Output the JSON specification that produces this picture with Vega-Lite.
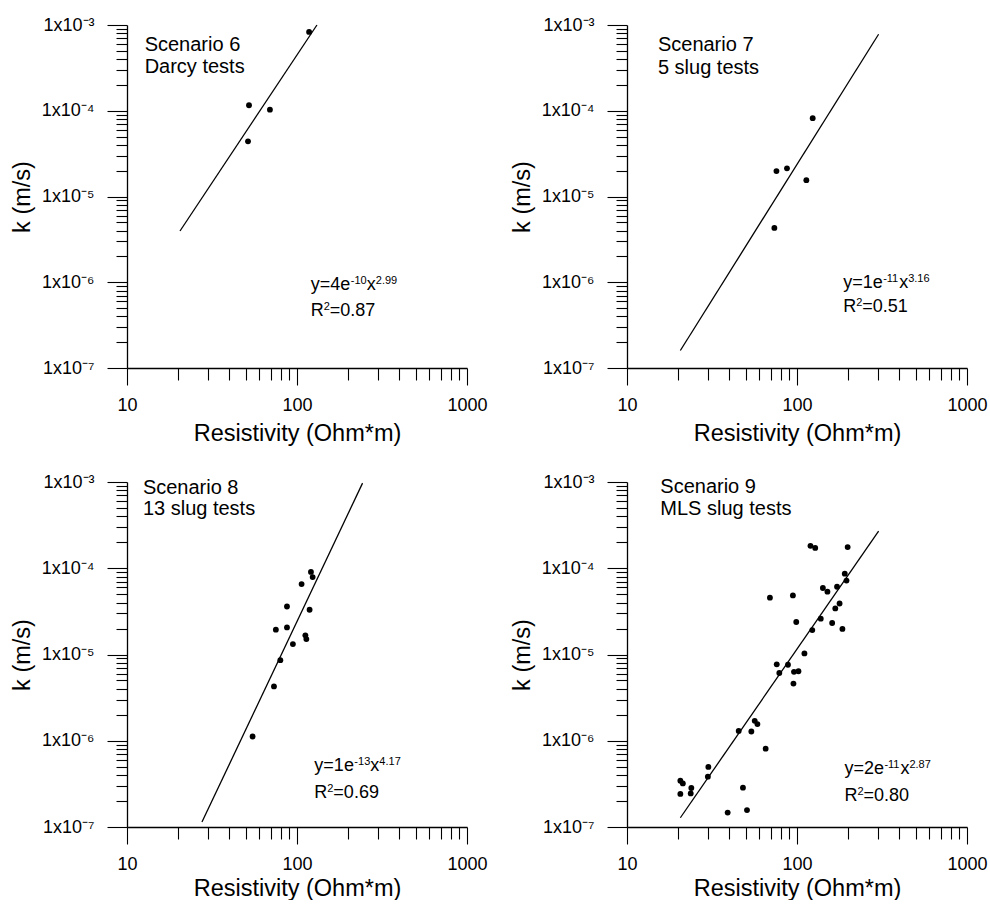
{
  "$schema": "https://vega.github.io/schema/vega-lite/v6.json",
  "background": "white",
  "padding": {"left": 10, "top": 16, "right": 0, "bottom": 0},
  "datasets": {
    "pts": [
      {"panel": "6", "res": 117.8, "k": 8.3e-4},
      {"panel": "6", "res": 52.2, "k": 1.16e-4},
      {"panel": "6", "res": 69.3, "k": 1.03e-4},
      {"panel": "6", "res": 51.5, "k": 4.4e-5},
      {"panel": "7", "res": 123.7, "k": 8.2e-5},
      {"panel": "7", "res": 75.7, "k": 1.98e-5},
      {"panel": "7", "res": 87.3, "k": 2.13e-5},
      {"panel": "7", "res": 113.5, "k": 1.55e-5},
      {"panel": "7", "res": 73.6, "k": 4.3e-6},
      {"panel": "8", "res": 120.8, "k": 9.06e-5},
      {"panel": "8", "res": 123.6, "k": 7.9e-5},
      {"panel": "8", "res": 106.4, "k": 6.56e-5},
      {"panel": "8", "res": 87.3, "k": 3.6e-5},
      {"panel": "8", "res": 118.6, "k": 3.3e-5},
      {"panel": "8", "res": 75.1, "k": 1.94e-5},
      {"panel": "8", "res": 87.3, "k": 2.06e-5},
      {"panel": "8", "res": 112, "k": 1.67e-5},
      {"panel": "8", "res": 113.5, "k": 1.51e-5},
      {"panel": "8", "res": 94.6, "k": 1.32e-5},
      {"panel": "8", "res": 79.8, "k": 8.6e-6},
      {"panel": "8", "res": 73.2, "k": 4.27e-6},
      {"panel": "8", "res": 54.8, "k": 1.12e-6},
      {"panel": "9", "res": 120, "k": 1.82e-4},
      {"panel": "9", "res": 128, "k": 1.72e-4},
      {"panel": "9", "res": 198.6, "k": 1.76e-4},
      {"panel": "9", "res": 191, "k": 8.65e-5},
      {"panel": "9", "res": 195.5, "k": 7.2e-5},
      {"panel": "9", "res": 142, "k": 5.9e-5},
      {"panel": "9", "res": 151, "k": 5.35e-5},
      {"panel": "9", "res": 172, "k": 6.1e-5},
      {"panel": "9", "res": 69.3, "k": 4.56e-5},
      {"panel": "9", "res": 94.6, "k": 4.84e-5},
      {"panel": "9", "res": 178, "k": 3.9e-5},
      {"panel": "9", "res": 168, "k": 3.42e-5},
      {"panel": "9", "res": 99, "k": 2.38e-5},
      {"panel": "9", "res": 138, "k": 2.6e-5},
      {"panel": "9", "res": 161, "k": 2.32e-5},
      {"panel": "9", "res": 185, "k": 1.98e-5},
      {"panel": "9", "res": 123, "k": 1.92e-5},
      {"panel": "9", "res": 110.6, "k": 1.03e-5},
      {"panel": "9", "res": 76, "k": 7.7e-6},
      {"panel": "9", "res": 88.5, "k": 7.6e-6},
      {"panel": "9", "res": 78.7, "k": 6.1e-6},
      {"panel": "9", "res": 96, "k": 6.3e-6},
      {"panel": "9", "res": 102, "k": 6.4e-6},
      {"panel": "9", "res": 95.3, "k": 4.6e-6},
      {"panel": "9", "res": 45.4, "k": 1.3e-6},
      {"panel": "9", "res": 56.4, "k": 1.7e-6},
      {"panel": "9", "res": 58.5, "k": 1.56e-6},
      {"panel": "9", "res": 53.9, "k": 1.28e-6},
      {"panel": "9", "res": 65.4, "k": 8.1e-7},
      {"panel": "9", "res": 30.1, "k": 4.97e-7},
      {"panel": "9", "res": 29.9, "k": 3.83e-7},
      {"panel": "9", "res": 20.6, "k": 3.44e-7},
      {"panel": "9", "res": 21.3, "k": 3.2e-7},
      {"panel": "9", "res": 23.9, "k": 2.83e-7},
      {"panel": "9", "res": 23.7, "k": 2.45e-7},
      {"panel": "9", "res": 20.6, "k": 2.42e-7},
      {"panel": "9", "res": 48.1, "k": 2.86e-7},
      {"panel": "9", "res": 39.1, "k": 1.47e-7},
      {"panel": "9", "res": 50.8, "k": 1.57e-7}
    ],
    "fit": [
      {"panel": "6", "res": 20.5, "k": 3.96e-6},
      {"panel": "6", "res": 131, "k": 1e-3},
      {"panel": "7", "res": 20.6, "k": 1.6e-7},
      {"panel": "7", "res": 302, "k": 7.8e-4},
      {"panel": "8", "res": 27.6, "k": 1.14e-7},
      {"panel": "8", "res": 243, "k": 9.7e-4},
      {"panel": "9", "res": 20.6, "k": 1.28e-7},
      {"panel": "9", "res": 302, "k": 2.7e-4}
    ],
    "meta": [
      {"panel": "6", "l1": "Scenario 6", "l2": "Darcy tests", "a": "y=4e", "b": "-10", "d": "2.99", "v": "=0.87"},
      {"panel": "7", "l1": "Scenario 7", "l2": "5 slug tests", "a": "y=1e", "b": "-11", "d": "3.16", "v": "=0.51"},
      {"panel": "8", "l1": "Scenario 8", "l2": "13 slug tests", "a": "y=1e", "b": "-13", "d": "4.17", "v": "=0.69"},
      {"panel": "9", "l1": "Scenario 9", "l2": "MLS slug tests", "a": "y=2e", "b": "-11", "d": "2.87", "v": "=0.80"}
    ]
  },
  "concat": [
    {
      "width": 340, "height": 343,
      "layer": [
        {"data": {"name": "pts"}, "transform": [{"filter": "datum.panel == '6'"}],
         "mark": {"type": "circle", "size": 34, "color": "black", "opacity": 1},
         "encoding": {
           "x": {"field": "res", "type": "quantitative", "scale": {"type": "log", "domain": [10, 1000]},
                 "axis": {"title": "Resistivity (Ohm*m)", "titlePadding": 7, "values": [10,20,30,40,50,60,70,80,90,100,200,300,400,500,600,700,800,900,1000],
                          "labelExpr": "abs(log(datum.value)/LN10 - round(log(datum.value)/LN10)) < 0.01 ? format(datum.value, 'd') : ''",
                          "tickSize": {"condition": {"test": "abs(log(datum.value)/LN10 - round(log(datum.value)/LN10)) < 0.01", "value": 17}, "value": 12}}},
           "y": {"field": "k", "type": "quantitative", "scale": {"type": "log", "domain": [1e-7, 1e-3]},
                 "axis": {"title": "k (m/s)", "values": [1e-7,2e-7,3e-7,4e-7,5e-7,6e-7,7e-7,8e-7,9e-7,1e-6,2e-6,3e-6,4e-6,5e-6,6e-6,7e-6,8e-6,9e-6,1e-5,2e-5,3e-5,4e-5,5e-5,6e-5,7e-5,8e-5,9e-5,1e-4,2e-4,3e-4,4e-4,5e-4,6e-4,7e-4,8e-4,9e-4,1e-3],
                          "labelExpr": "abs(log(datum.value)/LN10 - round(log(datum.value)/LN10)) < 0.01 ? '1x10⁻' + ['⁰','¹','²','³','⁴','⁵','⁶','⁷'][-round(log(datum.value)/LN10)] : ''",
                          "tickSize": {"condition": {"test": "abs(log(datum.value)/LN10 - round(log(datum.value)/LN10)) < 0.01", "value": 20}, "value": 11}}}
         }},
        {"data": {"name": "fit"}, "transform": [{"filter": "datum.panel == '6'"}],
         "mark": {"type": "line", "color": "black", "strokeWidth": 1.3},
         "encoding": {"x": {"field": "res", "type": "quantitative"}, "y": {"field": "k", "type": "quantitative"}}},
        {"data": {"name": "meta"}, "transform": [{"filter": "datum.panel == '6'"}],
         "mark": {"type": "text", "align": "left", "baseline": "alphabetic", "fontSize": 20},
         "encoding": {"x": {"datum": 12.7, "type": "quantitative"}, "y": {"datum": 4.91e-4, "type": "quantitative"}, "text": {"field": "l1"}}},
        {"data": {"name": "meta"}, "transform": [{"filter": "datum.panel == '6'"}],
         "mark": {"type": "text", "align": "left", "baseline": "alphabetic", "fontSize": 20},
         "encoding": {"x": {"datum": 12.7, "type": "quantitative"}, "y": {"datum": 2.76e-4, "type": "quantitative"}, "text": {"field": "l2"}}},
        {"data": {"name": "meta"}, "transform": [{"filter": "datum.panel == '6'"}],
         "mark": {"type": "text", "align": "left", "baseline": "alphabetic", "fontSize": 18},
         "encoding": {"x": {"datum": 120.5, "type": "quantitative"}, "y": {"datum": 8.13e-7, "type": "quantitative"}, "text": {"field": "a"}}},
        {"data": {"name": "meta"}, "transform": [{"filter": "datum.panel == '6'"}],
         "mark": {"type": "text", "align": "left", "baseline": "alphabetic", "fontSize": 11, "dx": 40, "dy": -6},
         "encoding": {"x": {"datum": 120.5, "type": "quantitative"}, "y": {"datum": 8.13e-7, "type": "quantitative"}, "text": {"field": "b"}}},
        {"data": {"name": "meta"}, "transform": [{"filter": "datum.panel == '6'"}],
         "mark": {"type": "text", "align": "left", "baseline": "alphabetic", "fontSize": 18, "dx": 56},
         "encoding": {"x": {"datum": 120.5, "type": "quantitative"}, "y": {"datum": 8.13e-7, "type": "quantitative"}, "text": {"value": "x"}}},
        {"data": {"name": "meta"}, "transform": [{"filter": "datum.panel == '6'"}],
         "mark": {"type": "text", "align": "left", "baseline": "alphabetic", "fontSize": 11, "dx": 65, "dy": -6},
         "encoding": {"x": {"datum": 120.5, "type": "quantitative"}, "y": {"datum": 8.13e-7, "type": "quantitative"}, "text": {"field": "d"}}},
        {"data": {"name": "meta"}, "transform": [{"filter": "datum.panel == '6'"}],
         "mark": {"type": "text", "align": "left", "baseline": "alphabetic", "fontSize": 18},
         "encoding": {"x": {"datum": 120.5, "type": "quantitative"}, "y": {"datum": 4.04e-7, "type": "quantitative"}, "text": {"value": "R"}}},
        {"data": {"name": "meta"}, "transform": [{"filter": "datum.panel == '6'"}],
         "mark": {"type": "text", "align": "left", "baseline": "alphabetic", "fontSize": 11, "dx": 13, "dy": -6},
         "encoding": {"x": {"datum": 120.5, "type": "quantitative"}, "y": {"datum": 4.04e-7, "type": "quantitative"}, "text": {"value": "2"}}},
        {"data": {"name": "meta"}, "transform": [{"filter": "datum.panel == '6'"}],
         "mark": {"type": "text", "align": "left", "baseline": "alphabetic", "fontSize": 18, "dx": 19},
         "encoding": {"x": {"datum": 120.5, "type": "quantitative"}, "y": {"datum": 4.04e-7, "type": "quantitative"}, "text": {"field": "v"}}}
      ]
    },
    {
      "width": 340, "height": 343,
      "layer": [
        {"data": {"name": "pts"}, "transform": [{"filter": "datum.panel == '7'"}],
         "mark": {"type": "circle", "size": 34, "color": "black", "opacity": 1},
         "encoding": {
           "x": {"field": "res", "type": "quantitative", "scale": {"type": "log", "domain": [10, 1000]},
                 "axis": {"title": "Resistivity (Ohm*m)", "titlePadding": 7, "values": [10,20,30,40,50,60,70,80,90,100,200,300,400,500,600,700,800,900,1000],
                          "labelExpr": "abs(log(datum.value)/LN10 - round(log(datum.value)/LN10)) < 0.01 ? format(datum.value, 'd') : ''",
                          "tickSize": {"condition": {"test": "abs(log(datum.value)/LN10 - round(log(datum.value)/LN10)) < 0.01", "value": 17}, "value": 12}}},
           "y": {"field": "k", "type": "quantitative", "scale": {"type": "log", "domain": [1e-7, 1e-3]},
                 "axis": {"title": "k (m/s)", "values": [1e-7,2e-7,3e-7,4e-7,5e-7,6e-7,7e-7,8e-7,9e-7,1e-6,2e-6,3e-6,4e-6,5e-6,6e-6,7e-6,8e-6,9e-6,1e-5,2e-5,3e-5,4e-5,5e-5,6e-5,7e-5,8e-5,9e-5,1e-4,2e-4,3e-4,4e-4,5e-4,6e-4,7e-4,8e-4,9e-4,1e-3],
                          "labelExpr": "abs(log(datum.value)/LN10 - round(log(datum.value)/LN10)) < 0.01 ? '1x10⁻' + ['⁰','¹','²','³','⁴','⁵','⁶','⁷'][-round(log(datum.value)/LN10)] : ''",
                          "tickSize": {"condition": {"test": "abs(log(datum.value)/LN10 - round(log(datum.value)/LN10)) < 0.01", "value": 20}, "value": 11}}}
         }},
        {"data": {"name": "fit"}, "transform": [{"filter": "datum.panel == '7'"}],
         "mark": {"type": "line", "color": "black", "strokeWidth": 1.3},
         "encoding": {"x": {"field": "res", "type": "quantitative"}, "y": {"field": "k", "type": "quantitative"}}},
        {"data": {"name": "meta"}, "transform": [{"filter": "datum.panel == '7'"}],
         "mark": {"type": "text", "align": "left", "baseline": "alphabetic", "fontSize": 20},
         "encoding": {"x": {"datum": 15.2, "type": "quantitative"}, "y": {"datum": 4.91e-4, "type": "quantitative"}, "text": {"field": "l1"}}},
        {"data": {"name": "meta"}, "transform": [{"filter": "datum.panel == '7'"}],
         "mark": {"type": "text", "align": "left", "baseline": "alphabetic", "fontSize": 20},
         "encoding": {"x": {"datum": 15.2, "type": "quantitative"}, "y": {"datum": 2.7e-4, "type": "quantitative"}, "text": {"field": "l2"}}},
        {"data": {"name": "meta"}, "transform": [{"filter": "datum.panel == '7'"}],
         "mark": {"type": "text", "align": "left", "baseline": "alphabetic", "fontSize": 18},
         "encoding": {"x": {"datum": 186.8, "type": "quantitative"}, "y": {"datum": 8.5e-7, "type": "quantitative"}, "text": {"field": "a"}}},
        {"data": {"name": "meta"}, "transform": [{"filter": "datum.panel == '7'"}],
         "mark": {"type": "text", "align": "left", "baseline": "alphabetic", "fontSize": 11, "dx": 40, "dy": -6},
         "encoding": {"x": {"datum": 186.8, "type": "quantitative"}, "y": {"datum": 8.5e-7, "type": "quantitative"}, "text": {"field": "b"}}},
        {"data": {"name": "meta"}, "transform": [{"filter": "datum.panel == '7'"}],
         "mark": {"type": "text", "align": "left", "baseline": "alphabetic", "fontSize": 18, "dx": 56},
         "encoding": {"x": {"datum": 186.8, "type": "quantitative"}, "y": {"datum": 8.5e-7, "type": "quantitative"}, "text": {"value": "x"}}},
        {"data": {"name": "meta"}, "transform": [{"filter": "datum.panel == '7'"}],
         "mark": {"type": "text", "align": "left", "baseline": "alphabetic", "fontSize": 11, "dx": 65, "dy": -6},
         "encoding": {"x": {"datum": 186.8, "type": "quantitative"}, "y": {"datum": 8.5e-7, "type": "quantitative"}, "text": {"field": "d"}}},
        {"data": {"name": "meta"}, "transform": [{"filter": "datum.panel == '7'"}],
         "mark": {"type": "text", "align": "left", "baseline": "alphabetic", "fontSize": 18},
         "encoding": {"x": {"datum": 186.8, "type": "quantitative"}, "y": {"datum": 4.5e-7, "type": "quantitative"}, "text": {"value": "R"}}},
        {"data": {"name": "meta"}, "transform": [{"filter": "datum.panel == '7'"}],
         "mark": {"type": "text", "align": "left", "baseline": "alphabetic", "fontSize": 11, "dx": 13, "dy": -6},
         "encoding": {"x": {"datum": 186.8, "type": "quantitative"}, "y": {"datum": 4.5e-7, "type": "quantitative"}, "text": {"value": "2"}}},
        {"data": {"name": "meta"}, "transform": [{"filter": "datum.panel == '7'"}],
         "mark": {"type": "text", "align": "left", "baseline": "alphabetic", "fontSize": 18, "dx": 19},
         "encoding": {"x": {"datum": 186.8, "type": "quantitative"}, "y": {"datum": 4.5e-7, "type": "quantitative"}, "text": {"field": "v"}}}
      ]
    },
    {
      "width": 340, "height": 345,
      "layer": [
        {"data": {"name": "pts"}, "transform": [{"filter": "datum.panel == '8'"}],
         "mark": {"type": "circle", "size": 34, "color": "black", "opacity": 1},
         "encoding": {
           "x": {"field": "res", "type": "quantitative", "scale": {"type": "log", "domain": [10, 1000]},
                 "axis": {"title": "Resistivity (Ohm*m)", "titlePadding": 3, "values": [10,20,30,40,50,60,70,80,90,100,200,300,400,500,600,700,800,900,1000],
                          "labelExpr": "abs(log(datum.value)/LN10 - round(log(datum.value)/LN10)) < 0.01 ? format(datum.value, 'd') : ''",
                          "tickSize": {"condition": {"test": "abs(log(datum.value)/LN10 - round(log(datum.value)/LN10)) < 0.01", "value": 17}, "value": 12}}},
           "y": {"field": "k", "type": "quantitative", "scale": {"type": "log", "domain": [1e-7, 1e-3]},
                 "axis": {"title": "k (m/s)", "values": [1e-7,2e-7,3e-7,4e-7,5e-7,6e-7,7e-7,8e-7,9e-7,1e-6,2e-6,3e-6,4e-6,5e-6,6e-6,7e-6,8e-6,9e-6,1e-5,2e-5,3e-5,4e-5,5e-5,6e-5,7e-5,8e-5,9e-5,1e-4,2e-4,3e-4,4e-4,5e-4,6e-4,7e-4,8e-4,9e-4,1e-3],
                          "labelExpr": "abs(log(datum.value)/LN10 - round(log(datum.value)/LN10)) < 0.01 ? '1x10⁻' + ['⁰','¹','²','³','⁴','⁵','⁶','⁷'][-round(log(datum.value)/LN10)] : ''",
                          "tickSize": {"condition": {"test": "abs(log(datum.value)/LN10 - round(log(datum.value)/LN10)) < 0.01", "value": 20}, "value": 11}}}
         }},
        {"data": {"name": "fit"}, "transform": [{"filter": "datum.panel == '8'"}],
         "mark": {"type": "line", "color": "black", "strokeWidth": 1.3},
         "encoding": {"x": {"field": "res", "type": "quantitative"}, "y": {"field": "k", "type": "quantitative"}}},
        {"data": {"name": "meta"}, "transform": [{"filter": "datum.panel == '8'"}],
         "mark": {"type": "text", "align": "left", "baseline": "alphabetic", "fontSize": 20},
         "encoding": {"x": {"datum": 12.4, "type": "quantitative"}, "y": {"datum": 7.22e-4, "type": "quantitative"}, "text": {"field": "l1"}}},
        {"data": {"name": "meta"}, "transform": [{"filter": "datum.panel == '8'"}],
         "mark": {"type": "text", "align": "left", "baseline": "alphabetic", "fontSize": 20},
         "encoding": {"x": {"datum": 12.4, "type": "quantitative"}, "y": {"datum": 4.18e-4, "type": "quantitative"}, "text": {"field": "l2"}}},
        {"data": {"name": "meta"}, "transform": [{"filter": "datum.panel == '8'"}],
         "mark": {"type": "text", "align": "left", "baseline": "alphabetic", "fontSize": 18},
         "encoding": {"x": {"datum": 126.5, "type": "quantitative"}, "y": {"datum": 4.46e-7, "type": "quantitative"}, "text": {"field": "a"}}},
        {"data": {"name": "meta"}, "transform": [{"filter": "datum.panel == '8'"}],
         "mark": {"type": "text", "align": "left", "baseline": "alphabetic", "fontSize": 11, "dx": 40, "dy": -6},
         "encoding": {"x": {"datum": 126.5, "type": "quantitative"}, "y": {"datum": 4.46e-7, "type": "quantitative"}, "text": {"field": "b"}}},
        {"data": {"name": "meta"}, "transform": [{"filter": "datum.panel == '8'"}],
         "mark": {"type": "text", "align": "left", "baseline": "alphabetic", "fontSize": 18, "dx": 56},
         "encoding": {"x": {"datum": 126.5, "type": "quantitative"}, "y": {"datum": 4.46e-7, "type": "quantitative"}, "text": {"value": "x"}}},
        {"data": {"name": "meta"}, "transform": [{"filter": "datum.panel == '8'"}],
         "mark": {"type": "text", "align": "left", "baseline": "alphabetic", "fontSize": 11, "dx": 65, "dy": -6},
         "encoding": {"x": {"datum": 126.5, "type": "quantitative"}, "y": {"datum": 4.46e-7, "type": "quantitative"}, "text": {"field": "d"}}},
        {"data": {"name": "meta"}, "transform": [{"filter": "datum.panel == '8'"}],
         "mark": {"type": "text", "align": "left", "baseline": "alphabetic", "fontSize": 18},
         "encoding": {"x": {"datum": 126.5, "type": "quantitative"}, "y": {"datum": 2.17e-7, "type": "quantitative"}, "text": {"value": "R"}}},
        {"data": {"name": "meta"}, "transform": [{"filter": "datum.panel == '8'"}],
         "mark": {"type": "text", "align": "left", "baseline": "alphabetic", "fontSize": 11, "dx": 13, "dy": -6},
         "encoding": {"x": {"datum": 126.5, "type": "quantitative"}, "y": {"datum": 2.17e-7, "type": "quantitative"}, "text": {"value": "2"}}},
        {"data": {"name": "meta"}, "transform": [{"filter": "datum.panel == '8'"}],
         "mark": {"type": "text", "align": "left", "baseline": "alphabetic", "fontSize": 18, "dx": 19},
         "encoding": {"x": {"datum": 126.5, "type": "quantitative"}, "y": {"datum": 2.17e-7, "type": "quantitative"}, "text": {"field": "v"}}}
      ]
    },
    {
      "width": 340, "height": 345,
      "layer": [
        {"data": {"name": "pts"}, "transform": [{"filter": "datum.panel == '9'"}],
         "mark": {"type": "circle", "size": 34, "color": "black", "opacity": 1},
         "encoding": {
           "x": {"field": "res", "type": "quantitative", "scale": {"type": "log", "domain": [10, 1000]},
                 "axis": {"title": "Resistivity (Ohm*m)", "titlePadding": 3, "values": [10,20,30,40,50,60,70,80,90,100,200,300,400,500,600,700,800,900,1000],
                          "labelExpr": "abs(log(datum.value)/LN10 - round(log(datum.value)/LN10)) < 0.01 ? format(datum.value, 'd') : ''",
                          "tickSize": {"condition": {"test": "abs(log(datum.value)/LN10 - round(log(datum.value)/LN10)) < 0.01", "value": 17}, "value": 12}}},
           "y": {"field": "k", "type": "quantitative", "scale": {"type": "log", "domain": [1e-7, 1e-3]},
                 "axis": {"title": "k (m/s)", "values": [1e-7,2e-7,3e-7,4e-7,5e-7,6e-7,7e-7,8e-7,9e-7,1e-6,2e-6,3e-6,4e-6,5e-6,6e-6,7e-6,8e-6,9e-6,1e-5,2e-5,3e-5,4e-5,5e-5,6e-5,7e-5,8e-5,9e-5,1e-4,2e-4,3e-4,4e-4,5e-4,6e-4,7e-4,8e-4,9e-4,1e-3],
                          "labelExpr": "abs(log(datum.value)/LN10 - round(log(datum.value)/LN10)) < 0.01 ? '1x10⁻' + ['⁰','¹','²','³','⁴','⁵','⁶','⁷'][-round(log(datum.value)/LN10)] : ''",
                          "tickSize": {"condition": {"test": "abs(log(datum.value)/LN10 - round(log(datum.value)/LN10)) < 0.01", "value": 20}, "value": 11}}}
         }},
        {"data": {"name": "fit"}, "transform": [{"filter": "datum.panel == '9'"}],
         "mark": {"type": "line", "color": "black", "strokeWidth": 1.3},
         "encoding": {"x": {"field": "res", "type": "quantitative"}, "y": {"field": "k", "type": "quantitative"}}},
        {"data": {"name": "meta"}, "transform": [{"filter": "datum.panel == '9'"}],
         "mark": {"type": "text", "align": "left", "baseline": "alphabetic", "fontSize": 20},
         "encoding": {"x": {"datum": 15.7, "type": "quantitative"}, "y": {"datum": 7.5e-4, "type": "quantitative"}, "text": {"field": "l1"}}},
        {"data": {"name": "meta"}, "transform": [{"filter": "datum.panel == '9'"}],
         "mark": {"type": "text", "align": "left", "baseline": "alphabetic", "fontSize": 20},
         "encoding": {"x": {"datum": 15.7, "type": "quantitative"}, "y": {"datum": 4.18e-4, "type": "quantitative"}, "text": {"field": "l2"}}},
        {"data": {"name": "meta"}, "transform": [{"filter": "datum.panel == '9'"}],
         "mark": {"type": "text", "align": "left", "baseline": "alphabetic", "fontSize": 18},
         "encoding": {"x": {"datum": 190, "type": "quantitative"}, "y": {"datum": 4.07e-7, "type": "quantitative"}, "text": {"field": "a"}}},
        {"data": {"name": "meta"}, "transform": [{"filter": "datum.panel == '9'"}],
         "mark": {"type": "text", "align": "left", "baseline": "alphabetic", "fontSize": 11, "dx": 40, "dy": -6},
         "encoding": {"x": {"datum": 190, "type": "quantitative"}, "y": {"datum": 4.07e-7, "type": "quantitative"}, "text": {"field": "b"}}},
        {"data": {"name": "meta"}, "transform": [{"filter": "datum.panel == '9'"}],
         "mark": {"type": "text", "align": "left", "baseline": "alphabetic", "fontSize": 18, "dx": 56},
         "encoding": {"x": {"datum": 190, "type": "quantitative"}, "y": {"datum": 4.07e-7, "type": "quantitative"}, "text": {"value": "x"}}},
        {"data": {"name": "meta"}, "transform": [{"filter": "datum.panel == '9'"}],
         "mark": {"type": "text", "align": "left", "baseline": "alphabetic", "fontSize": 11, "dx": 65, "dy": -6},
         "encoding": {"x": {"datum": 190, "type": "quantitative"}, "y": {"datum": 4.07e-7, "type": "quantitative"}, "text": {"field": "d"}}},
        {"data": {"name": "meta"}, "transform": [{"filter": "datum.panel == '9'"}],
         "mark": {"type": "text", "align": "left", "baseline": "alphabetic", "fontSize": 18},
         "encoding": {"x": {"datum": 190, "type": "quantitative"}, "y": {"datum": 2.02e-7, "type": "quantitative"}, "text": {"value": "R"}}},
        {"data": {"name": "meta"}, "transform": [{"filter": "datum.panel == '9'"}],
         "mark": {"type": "text", "align": "left", "baseline": "alphabetic", "fontSize": 11, "dx": 13, "dy": -6},
         "encoding": {"x": {"datum": 190, "type": "quantitative"}, "y": {"datum": 2.02e-7, "type": "quantitative"}, "text": {"value": "2"}}},
        {"data": {"name": "meta"}, "transform": [{"filter": "datum.panel == '9'"}],
         "mark": {"type": "text", "align": "left", "baseline": "alphabetic", "fontSize": 18, "dx": 19},
         "encoding": {"x": {"datum": 190, "type": "quantitative"}, "y": {"datum": 2.02e-7, "type": "quantitative"}, "text": {"field": "v"}}}
      ]
    }
  ],
  "columns": 2,
  "spacing": {"row": 114, "column": 160},
  "bounds": "flush",
  "config": {
    "view": {"stroke": null},
    "font": "Liberation Sans",
    "axis": {
      "domainColor": "black", "domainWidth": 1.3, "tickColor": "black", "tickWidth": 1.1,
      "labelColor": "black", "titleColor": "black", "labelFont": "Liberation Sans", "titleFont": "Liberation Sans",
      "labelFontSize": 18, "titleFontSize": 23.5, "titleFontWeight": "normal", "grid": false, "labelOverlap": false, "labelBound": false, "labelFlush": false
    },
    "axisX": {"labelPadding": 11},
    "axisY": {"labelPadding": 13, "titlePadding": 7},
    "text": {"font": "Liberation Sans", "color": "black"}
  }
}
